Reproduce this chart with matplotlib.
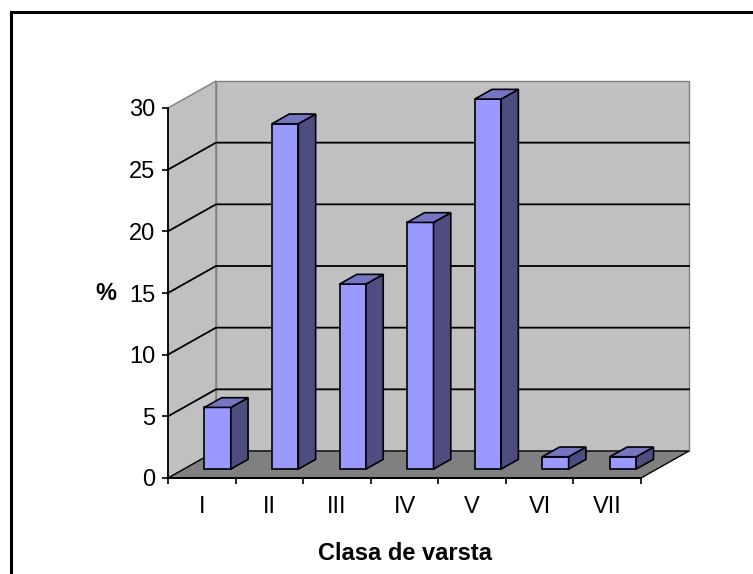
import matplotlib
matplotlib.use("Agg")
import matplotlib.pyplot as plt
from matplotlib.patches import Polygon
from matplotlib.lines import Line2D

plt.rcParams["font.family"] = ["Liberation Sans", "DejaVu Sans"]

# -------------------------------------------------------------------
# date
# -------------------------------------------------------------------
categorii = ["I", "II", "III", "IV", "V", "VI", "VII"]
procente = [5, 28, 15, 20, 30, 1, 1]
y_ticks = [0, 5, 10, 15, 20, 25, 30]

# pseudo-3D: adancimea in unitati de date (x = categorii, y = %)
DX, DY = 0.71, 2.19
D0, D1 = 0.33, 0.69      # fata / spatele barelor
LATIME = 0.39
FS = 17

WALL = "#c0c0c0"
FLOOR = "#808080"
FRONT, TOP, SIDE = "#9999ff", "#7575c6", "#4d4d80"


def P(x, y, d):
    return (x + d * DX, y + d * DY)


def poly(ax, pts, fc, ec, lw=1.0, z=1):
    ax.add_patch(Polygon(pts, closed=True, facecolor=fc, edgecolor=ec,
                         linewidth=lw, clip_on=False, zorder=z,
                         joinstyle="miter"))


W, H = 753, 574
fig = plt.figure(figsize=(W / 100, H / 100), dpi=100)
ax = fig.add_axes([168 / W, 1 - 478 / H, (641 - 168) / W, (478 - 108) / H])
n = len(categorii)
ymax = y_ticks[-1]
ax.set_xlim(0, n)
ax.set_ylim(0, ymax)
ax.set_facecolor("none")

# pereti + podea
poly(ax, [P(0, 0, 0), P(0, ymax, 0), P(0, ymax, 1), P(0, 0, 1)], WALL, FLOOR, 1.0, 0.5)
poly(ax, [P(0, 0, 1), P(n, 0, 1), P(n, ymax, 1), P(0, ymax, 1)], WALL, FLOOR, 1.0, 0.5)
poly(ax, [P(0, 0, 0), P(n, 0, 0), P(n, 0, 1), P(0, 0, 1)], FLOOR, "black", 1.0, 0.6)

# linii de grila
for t in y_ticks[1:-1]:
    xs, ys = zip(P(0, t, 0), P(0, t, 1), P(n, t, 1))
    ax.plot(xs, ys, color="black", lw=1.3, clip_on=False, zorder=0.8)

# bare
for i, v in enumerate(procente):
    x0 = i + 0.5 - LATIME / 2
    x1 = i + 0.5 + LATIME / 2
    poly(ax, [P(x0, 0, D0), P(x1, 0, D0), P(x1, v, D0), P(x0, v, D0)], FRONT, "black", 1.2, 2)
    poly(ax, [P(x1, 0, D0), P(x1, 0, D1), P(x1, v, D1), P(x1, v, D0)], SIDE, "black", 1.2, 2)
    poly(ax, [P(x0, v, D0), P(x1, v, D0), P(x1, v, D1), P(x0, v, D1)], TOP, "black", 1.2, 2)

# axe
for s in ["top", "right"]:
    ax.spines[s].set_visible(False)
for s in ["left", "bottom"]:
    ax.spines[s].set_linewidth(1.3)
    ax.spines[s].set_zorder(3)

ax.set_yticks(y_ticks)
ax.set_yticklabels([str(t) for t in y_ticks], fontsize=FS)
ax.tick_params(axis="y", direction="out", length=4, width=1.2, pad=5)

ax.set_xticks(range(n + 1))
ax.set_xticklabels([])
ax.set_xticks([i + 0.5 for i in range(n)], minor=True)
ax.set_xticklabels(categorii, minor=True, fontsize=FS)
ax.tick_params(axis="x", which="major", direction="out", length=4, width=1.2)
ax.tick_params(axis="x", which="minor", length=0, pad=13)

ax.set_xlabel("Clasa de varsta", fontsize=FS, fontweight="bold", labelpad=17)
ax.set_ylabel("%", fontsize=FS, fontweight="bold", rotation=0, labelpad=9,
              ha="right", va="center")

# chenarul graficului (sus si stanga)
fig.add_artist(Line2D([11 / W, 1], [1 - 12 / H, 1 - 12 / H], color="black", lw=2.2))
fig.add_artist(Line2D([11 / W, 11 / W], [1 - 12 / H, 0], color="black", lw=2.2))

fig.savefig("out.png", dpi=100)
